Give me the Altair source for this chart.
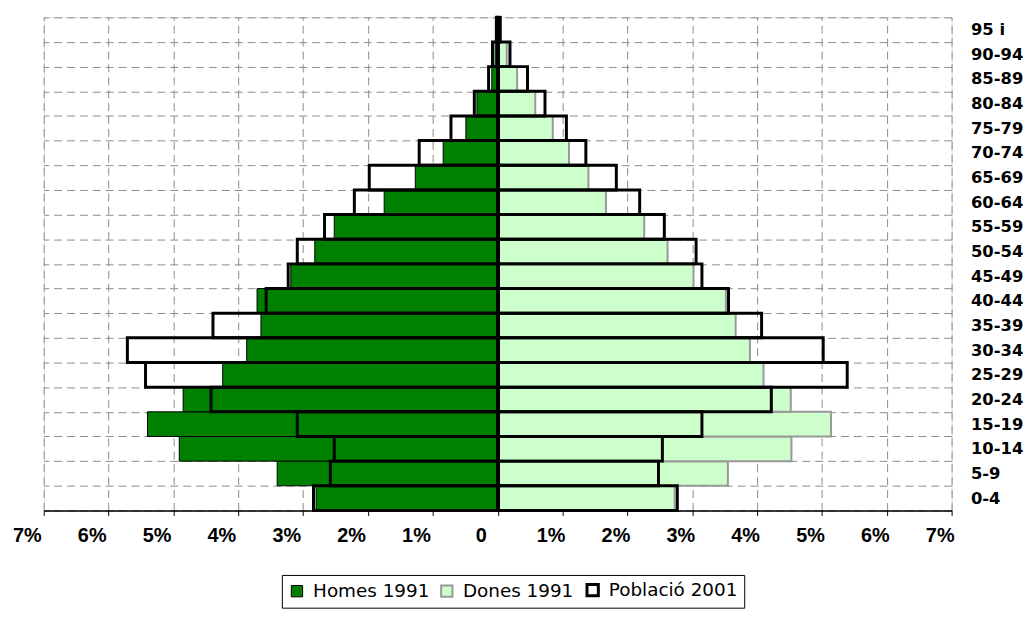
import altair as alt
import pandas as pd

ages = ["0-4", "5-9", "10-14", "15-19", "20-24", "25-29", "30-34", "35-39",
        "40-44", "45-49", "50-54", "55-59", "60-64", "65-69", "70-74",
        "75-79", "80-84", "85-89", "90-94", "95 i"]

homes_1991 = [2.80, 3.40, 4.91, 5.40, 4.85, 4.24, 3.87, 3.65, 3.71, 3.19,
              2.82, 2.52, 1.75, 1.27, 0.84, 0.49, 0.32, 0.09, 0.04, 0.01]
dones_1991 = [2.73, 3.55, 4.53, 5.14, 4.52, 4.10, 3.89, 3.67, 3.52, 3.02,
              2.62, 2.26, 1.67, 1.40, 1.10, 0.85, 0.58, 0.30, 0.14, 0.03]
homes_2001 = [2.84, 2.58, 2.52, 3.09, 4.42, 5.43, 5.71, 4.39, 3.57, 3.23,
              3.09, 2.67, 2.21, 1.98, 1.21, 0.72, 0.36, 0.14, 0.08, 0.02]
dones_2001 = [2.77, 2.48, 2.54, 3.15, 4.22, 5.39, 5.02, 4.07, 3.56, 3.15,
              3.06, 2.57, 2.19, 1.83, 1.36, 1.06, 0.73, 0.46, 0.19, 0.04]

series = ["Homes 1991", "Dones 1991", "Població 2001"]
x_ticks = list(range(-7, 8))

rows = []
for a, v in zip(ages, homes_1991):
    rows.append({"age": a, "serie": series[0], "x0": -v, "x1": 0})
for a, v in zip(ages, dones_1991):
    rows.append({"age": a, "serie": series[1], "x0": 0, "x1": v})
for a, v in zip(ages, homes_2001):
    rows.append({"age": a, "serie": series[2], "x0": -v, "x1": 0})
for a, v in zip(ages, dones_2001):
    rows.append({"age": a, "serie": series[2], "x0": 0, "x1": v})
df = pd.DataFrame(rows)

xscale = alt.Scale(domain=[-7, 7], nice=False, zero=False)

bars = alt.Chart(df).mark_bar().encode(
    x=alt.X("x0:Q", scale=xscale, title=None,
            axis=alt.Axis(values=x_ticks,
                          labelExpr="datum.value == 0 ? '0' : abs(datum.value) + '%'",
                          grid=True, gridDash=[8, 5], gridColor="#8c8c8c", gridWidth=1,
                          ticks=True, tickSize=5, tickColor="black",
                          domainColor="black", domainWidth=1.5,
                          labelFont="Liberation Sans", labelFontWeight="bold",
                          labelFontSize=20, labelColor="black",
                          labelPadding=10,
                          labelOffset={"condition": {"test": "datum.value <= 0", "value": -17},
                                       "value": -12},
                          labelFlush=False)),
    x2="x1:Q",
    y=alt.Y("age:N", sort=list(reversed(ages)), title=None,
            scale=alt.Scale(paddingInner=0, paddingOuter=0),
            axis=alt.Axis(orient="right", tickBand="extent", grid=True,
                          gridDash=[8, 5], gridColor="#8c8c8c", gridWidth=1,
                          ticks=False, tickSize=0, domain=False,
                          labelFont="DejaVu Sans", labelFontWeight="bold",
                          labelFontSize=16.5, labelColor="black",
                          labelPadding=19, labelAlign="left")),
    fill=alt.Fill("serie:N",
                  scale=alt.Scale(domain=series, range=["#008000", "#CCFFCC", "transparent"]),
                  legend=alt.Legend(title=None, orient="none", legendX=240, legendY=562,
                                    direction="horizontal", columns=3,
                                    labelFont="DejaVu Sans", labelFontSize=18.5,
                                    labelColor="black", labelOffset=7,
                                    symbolType="square", symbolSize=130,
                                    columnPadding=7, padding=6,
                                    strokeColor="black", fillColor="white")),
    stroke=alt.Stroke("serie:N",
                      scale=alt.Scale(domain=series, range=["black", "#999999", "black"])),
    strokeWidth=alt.StrokeWidth("serie:N",
                                scale=alt.Scale(type="point", domain=series, range=[1, 3])),
)

axis0 = alt.Chart(df).mark_rule(color="black", strokeWidth=3).encode(
    x=alt.datum(0)
)

chart = alt.layer(bars, axis0).properties(
    width=915, height=497,
    autosize=alt.AutoSizeParams(type="none"),
    padding={"left": 36, "top": 7, "right": 77, "bottom": 105},
).configure_view(stroke="#8c8c8c", strokeWidth=1.5).configure(background="white")

chart.save("out.html", embed_options={"renderer": "svg", "actions": False})
